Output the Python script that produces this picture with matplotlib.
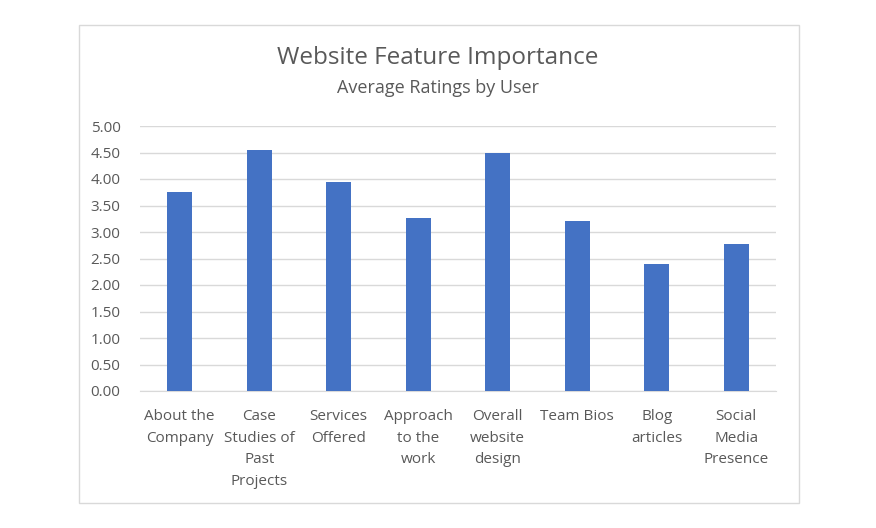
import matplotlib
matplotlib.use("Agg")
import matplotlib.pyplot as plt
from matplotlib.patches import Rectangle

#---------------------- data ----------------------
features = ["About the\nCompany", "Case\nStudies of\nPast\nProjects", "Services\nOffered",
            "Approach\nto the\nwork", "Overall\nwebsite\ndesign", "Team Bios",
            "Blog\narticles", "Social\nMedia\nPresence"]
ratings = [3.76, 4.54, 3.95, 3.26, 4.50, 3.20, 2.40, 2.78]
yticks = [0.0, 0.5, 1.0, 1.5, 2.0, 2.5, 3.0, 3.5, 4.0, 4.5, 5.0]

plt.rcParams['font.family'] = ['Open Sans', 'DejaVu Sans']
txt = '#595959'
grid = '#d9d9d9'

fig = plt.figure(figsize=(8.76, 5.28), dpi=100)
fig.patch.set_facecolor('white')

# outer chart border
fig.patches.append(Rectangle((79/876, 1-503/528), 720/876, 478/528, transform=fig.transFigure,
                             fill=False, edgecolor=grid, linewidth=1))

ax = fig.add_axes([140/876, 1-391/528, 636/876, 265/528])
x = range(len(features))
ax.bar(x, ratings, width=0.31, color='#4472c4', zorder=3)

ax.set_ylim(0, 5)
ax.set_xlim(-0.5, len(features)-0.5)
ax.set_yticks(yticks)
ax.set_yticklabels(['%.2f' % v for v in yticks])
ax.set_xticks(list(x))
ax.set_xticklabels(features, linespacing=1.6, va='top')
ax.tick_params(axis='both', length=0, labelsize=11, colors=txt)
ax.tick_params(axis='x', pad=13)
ax.tick_params(axis='y', pad=14)
ax.yaxis.grid(True, color=grid, linewidth=1, zorder=0)
for s in ['top', 'right', 'left']:
    ax.spines[s].set_visible(False)
ax.spines['bottom'].set_color(grid)

fig.text(0.5, 1-58/528, 'Website Feature Importance', ha='center', va='center', fontsize=17.5, color=txt)
fig.text(0.5, 1-88/528, 'Average Ratings by User', ha='center', va='center', fontsize=13, color=txt)

fig.savefig('out.png', dpi=100)
